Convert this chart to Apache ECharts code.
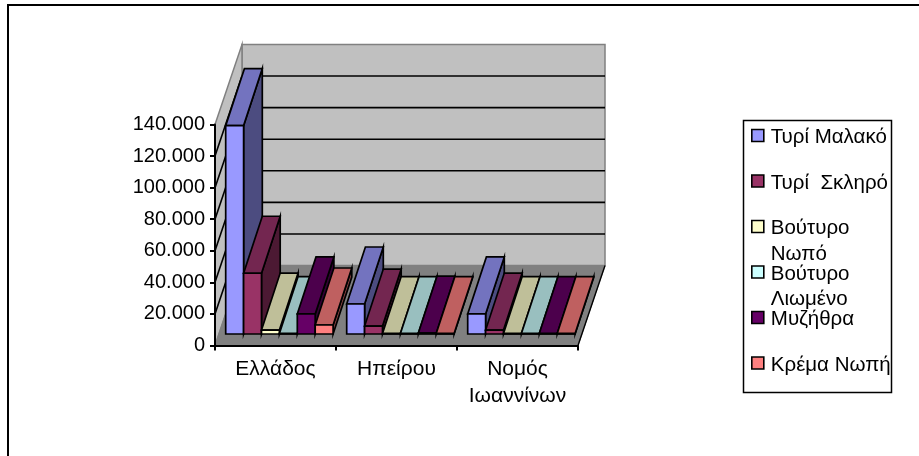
<!DOCTYPE html>
<html><head><meta charset="utf-8">
<style>html,body{margin:0;padding:0;background:#fff}#c{width:919px;height:456px}</style>
<script src="https://cdn.jsdelivr.net/npm/echarts@6/dist/echarts.min.js"></script>
</head><body><div id="c"></div>
<script>
const categories = ['Ελλάδος', 'Ηπείρου', 'Νομός\nΙωαννίνων'];
const tickMax = 140000;
const tickStep = 20000;
const turiMalako = [132000, 19000, 12700];
const turiSklero = [38500, 5000, 2500];
const voutiroNopo = [2500, 300, 300];
const voutiroLiomeno = [300, 300, 300];
const mizithra = [12700, 500, 300];
const kremaNopi = [5700, 300, 300];
const seriesNames = ['Τυρί Μαλακό', 'Τυρί  Σκληρό', 'Βούτυρο\nΝωπό', 'Βούτυρο\nΛιωμένο', 'Μυζήθρα', 'Κρέμα Νωπή'];
const seriesValues = [turiMalako, turiSklero, voutiroNopo, voutiroLiomeno, mizithra, kremaNopi];
const front = ['#9999FF', '#993366', '#FFFFCC', '#CCFFFF', '#660066', '#FF8080'];
const topFace = ['#7373BF', '#732650', '#BFBF99', '#99BFBF', '#4C004C', '#BF6060'];
const side = ['#4C4C80', '#4C1933', '#808066', '#668080', '#330033', '#804040'];

const FONT = '"Liberation Sans", Arial, sans-serif';
const DX = 27, DY = -80;            // chart depth
const bx = 18.7, by = -57;          // bar depth
const ix = 3.9, iy = -11.5;         // front gap in depth
const barFrac = 17.9 / 121;

function poly(points, fill, stroke, w) {
  return { type: 'polygon', shape: { points }, style: { fill, stroke: stroke || 'none', lineWidth: w || 0 } };
}
function seg(a, b, stroke, w) {
  return { type: 'line', shape: { x1: a[0], y1: a[1], x2: b[0], y2: b[1] }, style: { stroke, lineWidth: w } };
}

function renderWalls(params, api) {
  const cs = params.coordSys;
  const L = cs.x, R = cs.x + cs.width;
  const y0 = api.coord([0, 0])[1], yT = api.coord([0, tickMax])[1];
  const ch = [
    poly([[L + DX, yT + DY], [R + DX, yT + DY], [R + DX, y0 + DY], [L + DX, y0 + DY]], '#C0C0C0', '#808080', 1.5),
    poly([[L, yT], [L + DX, yT + DY], [L + DX, y0 + DY], [L, y0]], '#C0C0C0', '#808080', 1.5),
    poly([[L, y0], [R, y0], [R + DX, y0 + DY], [L + DX, y0 + DY]], '#808080', '#808080', 1)
  ];
  for (let v = tickStep; v < tickMax; v += tickStep) {
    const y = api.coord([0, v])[1];
    ch.push(seg([L, y], [L + DX, y + DY], '#000', 1.6));
    ch.push(seg([L + DX, y + DY], [R + DX, y + DY], '#000', 1.6));
  }
  ch.push(seg([R, y0], [R + DX, y0 + DY], '#000', 1.4));
  return { type: 'group', children: ch };
}

function barRender(si) {
  return function (params, api) {
    const cat = api.value(0), val = api.value(1);
    const band = api.size([1, 0])[0];
    const w = band * barFrac;
    const c0 = api.coord([cat, 0]), c1 = api.coord([cat, val]);
    const x0 = c0[0] + (si - 3) * w + ix, x1 = x0 + w;
    const yb = c0[1] + iy, yt = c1[1] + iy;
    const st = '#000', lw = 1.7;
    return { type: 'group', children: [
      poly([[x1, yb], [x1 + bx, yb + by], [x1 + bx, yt + by], [x1, yt]], side[si], st, lw),
      poly([[x0, yt], [x1, yt], [x1 + bx, yt + by], [x0 + bx, yt + by]], topFace[si], st, lw),
      poly([[x0, yb], [x1, yb], [x1, yt], [x0, yt]], front[si], st, lw)
    ]};
  };
}

function legendLabel(name) {
  const p = name.split('\n');
  return '{g| }\n{t|' + p[0] + '}\n{t2|' + (p[1] || ' ') + '}';
}

const series = [{
  type: 'custom', name: 'walls', silent: true, z: 1, clip: false,
  renderItem: renderWalls, data: [[0, 0]], encode: { x: 0, y: 1 }, tooltip: { show: false }
}];
seriesNames.forEach((name, si) => {
  series.push({
    type: 'custom', name, z: 2 + si, clip: false,
    renderItem: barRender(si),
    itemStyle: { color: front[si], borderColor: '#000', borderWidth: 1 },
    data: seriesValues[si].map((v, ci) => [ci, v]),
    encode: { x: 0, y: 1 }
  });
});

const chart = echarts.init(document.getElementById('c'), null, { renderer: 'canvas' });
chart.setOption({
  animation: false,
  backgroundColor: '#fff',
  textStyle: { fontFamily: FONT },
  grid: { left: 215, top: 124.5, width: 363, height: 221 },
  xAxis: {
    type: 'category', data: categories, z: 20,
    axisLine: { show: true, lineStyle: { color: '#000', width: 2 } },
    axisTick: { show: true, length: 5, lineStyle: { color: '#000', width: 2 } },
    axisLabel: { color: '#000', fontSize: 21, fontFamily: FONT, margin: 10, lineHeight: 27, interval: 0 },
    splitLine: { show: false }
  },
  yAxis: {
    type: 'value', min: 0, max: tickMax, interval: tickStep, z: 20,
    axisLine: { show: true, lineStyle: { color: '#000', width: 2 } },
    axisTick: { show: true, length: 5, lineStyle: { color: '#000', width: 2 } },
    axisLabel: { color: '#000', fontSize: 20, fontFamily: FONT, margin: 10,
      formatter: v => String(v).replace(/\B(?=(\d{3})+$)/g, '.') },
    splitLine: { show: false }
  },
  legend: {
    orient: 'vertical', left: 751, top: 108, padding: 0, itemGap: -20,
    itemWidth: 12, itemHeight: 12, icon: 'rect', selectedMode: false,
    data: seriesNames.map(n => ({ name: n })),
    itemStyle: { borderColor: '#000', borderWidth: 1.6 },
    formatter: legendLabel,
    textStyle: { rich: {
      g: { lineHeight: 31, fontSize: 10, fontFamily: FONT },
      t: { lineHeight: 18, fontSize: 20.5, fontFamily: FONT, color: '#000', padding: [0, 0, 0, 2] },
      t2: { lineHeight: 27, fontSize: 20.5, fontFamily: FONT, color: '#000', verticalAlign: 'bottom', padding: [0, 0, 0, 2] }
    } }
  },
  graphic: [
    { type: 'rect', silent: true, z: -1, shape: { x: 8, y: 5, width: 930, height: 470 }, style: { fill: 'none', stroke: '#000', lineWidth: 2 } },
    { type: 'rect', silent: true, z: -1, shape: { x: 743.5, y: 120.5, width: 148, height: 272 }, style: { fill: 'none', stroke: '#000', lineWidth: 1.5 } }
  ],
  series
});
</script></body></html>
